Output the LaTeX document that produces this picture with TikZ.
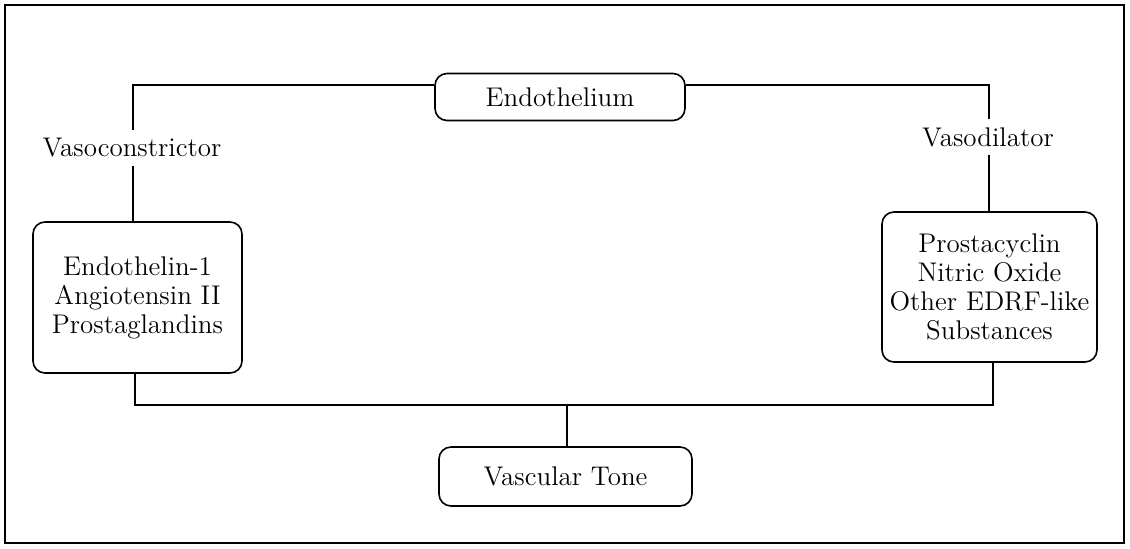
\documentclass[tikz,border=0pt]{standalone}
\begin{document}
\begin{tikzpicture}[x=0.5pt,y=-0.5pt,
  box/.style={draw,line width=0.8pt,rounded corners=6pt,align=center,inner sep=0pt,
    font=\fontsize{13.5}{14.5}\selectfont},
  lab/.style={font=\fontsize{13.5}{15}\selectfont,inner xsep=1pt,inner ysep=4pt},
  conn/.style={line width=0.7pt}]
\useasboundingbox (0,0) rectangle (1130,548);
\draw[line width=1.3pt] (5,5) rectangle (1124,543);
\node[box,minimum width=125pt,minimum height=23.5pt] (endo) at (560,97) {Endothelium};
\node[box,minimum width=104.5pt,minimum height=75.5pt] (L) at (137.5,297.5) {Endothelin-1\\Angiotensin II\\Prostaglandins};
\node[box,minimum width=107.5pt,minimum height=75pt] (R) at (989.5,287) {Prostacyclin\\Nitric Oxide\\Other EDRF-like\\Substances};
\node[box,minimum width=126.5pt,minimum height=29.5pt] (tone) at (565.5,476.5) {Vascular Tone};
\node[lab] (vc) at (132,148) {Vasoconstrictor};
\node[lab] (vd) at (988,137) {Vasodilator};
\coordinate (tl) at (133,85);
\coordinate (tr) at (989,85);
\coordinate (bl) at (135,405);
\coordinate (br) at (993,405);
\coordinate (bm) at (567,405);
\draw[conn] (endo.west |- tl) -- (tl) -- (tl |- vc.north);
\draw[conn] (tl |- vc.south) -- (tl |- L.north);
\draw[conn] (endo.east |- tr) -- (tr) -- (tr |- vd.north);
\draw[conn] (tr |- vd.south) -- (tr |- R.north);
\draw[conn] (bl |- L.south) -- (bl) -- (br) -- (br |- R.south);
\draw[conn] (bm) -- (tone.north -| bm);
\end{tikzpicture}
\end{document}
